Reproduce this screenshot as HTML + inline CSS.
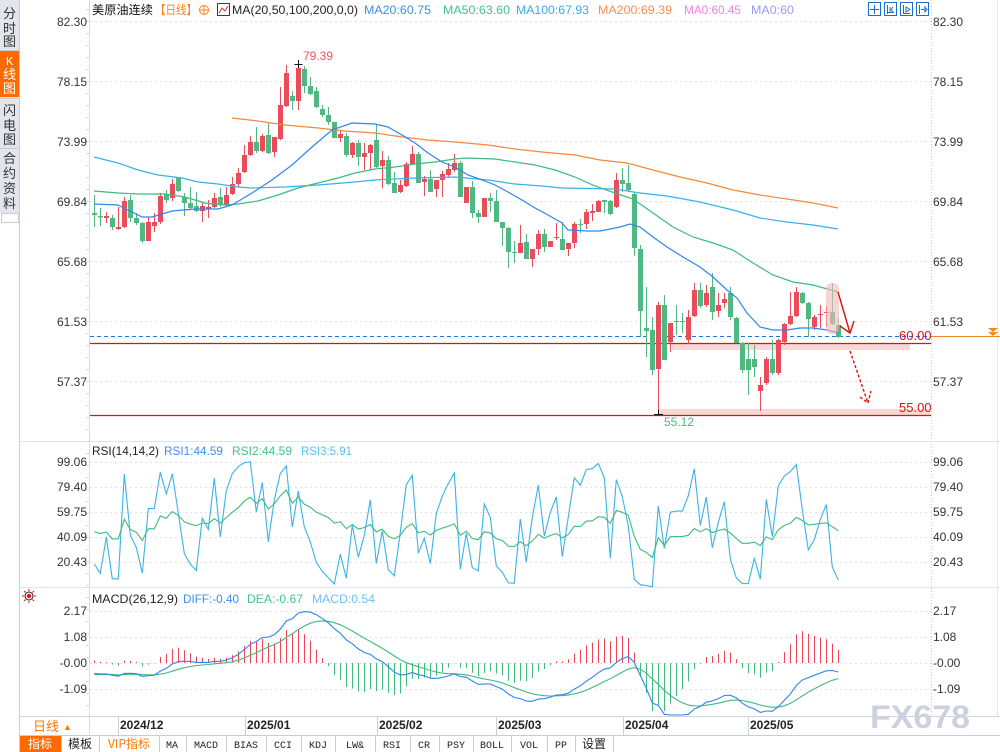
<!DOCTYPE html>
<html><head><meta charset="utf-8">
<style>
html,body{margin:0;padding:0;background:#fff}
body{width:1000px;height:752px;overflow:hidden;position:relative;font-family:"Liberation Sans","Noto Sans CJK SC",sans-serif}
svg{position:absolute;left:0;top:0}
text{font-family:"Liberation Sans","Noto Sans CJK SC",sans-serif;font-size:12px}
.cj{font-family:"Noto Sans CJK SC","Liberation Sans",sans-serif}
.mono{font-family:"Liberation Mono","Noto Sans CJK SC",monospace;font-size:10px}
</style></head><body>
<svg width="1000" height="752" viewBox="0 0 1000 752" xmlns="http://www.w3.org/2000/svg">
<!-- sidebar -->
<rect x="0" y="0" width="19" height="213" fill="#e3e5ed"/>
<rect x="0" y="51" width="19" height="46" fill="#ff6a00"/>
<line x1="0" y1="50.5" x2="19" y2="50.5" stroke="#c8ccd6"/>
<line x1="0" y1="98.5" x2="19" y2="98.5" stroke="#c8ccd6"/>
<line x1="0" y1="148.5" x2="19" y2="148.5" stroke="#c8ccd6"/>
<rect x="1.5" y="213.5" width="17" height="9" fill="#fff" stroke="#c8ccd6"/>
<line x1="19.5" y1="0" x2="19.5" y2="752" stroke="#c9ced8"/>
<g class="cj" fill="#333" text-anchor="middle" style="font-size:13px">
<text x="9.5" y="18" class="cj" style="font-size:13px">分</text>
<text x="9.5" y="33" class="cj" style="font-size:13px">时</text>
<text x="9.5" y="46" class="cj" style="font-size:13px">图</text>
<text x="9.5" y="65" fill="#fff" style="font-size:12px;font-family:'Liberation Mono',monospace">K</text>
<text x="9.5" y="79" class="cj" fill="#fff" style="font-size:13px">线</text>
<text x="9.5" y="93" class="cj" fill="#fff" style="font-size:13px">图</text>
<text x="9.5" y="115" class="cj" style="font-size:13px">闪</text>
<text x="9.5" y="130" class="cj" style="font-size:13px">电</text>
<text x="9.5" y="144" class="cj" style="font-size:13px">图</text>
<text x="9.5" y="163" class="cj" style="font-size:13px">合</text>
<text x="9.5" y="178" class="cj" style="font-size:13px">约</text>
<text x="9.5" y="193" class="cj" style="font-size:13px">资</text>
<text x="9.5" y="208" class="cj" style="font-size:13px">料</text>
</g>

<!-- axes & separators -->
<line x1="89.5" y1="0" x2="89.5" y2="736" stroke="#d5dde8"/>
<line x1="931.5" y1="0" x2="931.5" y2="716" stroke="#c8c8c8" stroke-dasharray="1,2"/>
<line x1="20" y1="441.5" x2="1000" y2="441.5" stroke="#dfe5ec"/>
<line x1="20" y1="587.5" x2="1000" y2="587.5" stroke="#dfe5ec"/>
<line x1="20" y1="716.5" x2="1000" y2="716.5" stroke="#d0d6e0"/>
<line x1="20" y1="735.5" x2="1000" y2="735.5" stroke="#c8ccd4"/>
<line x1="997.5" y1="0" x2="997.5" y2="716" stroke="#e4e8ee"/>
<g id="ticks"></g>

<!-- grid lines -->
<g stroke="#e2e2e2" stroke-dasharray="2,3">
<line x1="90" y1="21.5" x2="931" y2="21.5"/>
<line x1="90" y1="81.5" x2="931" y2="81.5"/>
<line x1="90" y1="141.5" x2="931" y2="141.5"/>
<line x1="90" y1="201.5" x2="931" y2="201.5"/>
<line x1="90" y1="261.5" x2="931" y2="261.5"/>
<line x1="90" y1="321.5" x2="931" y2="321.5"/>
<line x1="90" y1="381.5" x2="931" y2="381.5"/>
<line x1="90" y1="462.5" x2="931" y2="462.5"/>
<line x1="90" y1="487.5" x2="931" y2="487.5"/>
<line x1="90" y1="512.5" x2="931" y2="512.5"/>
<line x1="90" y1="537.5" x2="931" y2="537.5"/>
<line x1="90" y1="562.5" x2="931" y2="562.5"/>
<line x1="90" y1="611.5" x2="931" y2="611.5"/>
<line x1="90" y1="637.5" x2="931" y2="637.5"/>
<line x1="90" y1="663.5" x2="931" y2="663.5"/>
<line x1="90" y1="689.5" x2="931" y2="689.5"/>
</g>

<!-- axis labels -->
<g fill="#333" text-anchor="end">
<text x="87" y="26">82.30</text>
<text x="87" y="86">78.15</text>
<text x="87" y="146">73.99</text>
<text x="87" y="206">69.84</text>
<text x="87" y="266">65.68</text>
<text x="87" y="326">61.53</text>
<text x="87" y="386">57.37</text>
<text x="87" y="466">99.06</text>
<text x="87" y="491">79.40</text>
<text x="87" y="516">59.75</text>
<text x="87" y="541">40.09</text>
<text x="87" y="566">20.43</text>
<text x="87" y="615">2.17</text>
<text x="87" y="641">1.08</text>
<text x="87" y="667">-0.00</text>
<text x="87" y="693">-1.09</text>
</g>
<g fill="#333">
<text x="933" y="26">82.30</text>
<text x="933" y="86">78.15</text>
<text x="933" y="146">73.99</text>
<text x="933" y="206">69.84</text>
<text x="933" y="266">65.68</text>
<text x="933" y="326">61.53</text>
<text x="933" y="386">57.37</text>
<text x="933" y="466">99.06</text>
<text x="933" y="491">79.40</text>
<text x="933" y="516">59.75</text>
<text x="933" y="541">40.09</text>
<text x="933" y="566">20.43</text>
<text x="933" y="615">2.17</text>
<text x="933" y="641">1.08</text>
<text x="933" y="667">-0.00</text>
<text x="933" y="693">-1.09</text>
</g>

<!-- horizontal markers -->
<rect x="672" y="344" width="238" height="6" fill="#fad6d6"/>
<rect x="659" y="409" width="271" height="6" fill="#fad6d6"/>
<line x1="90" y1="336.5" x2="931" y2="336.5" stroke="#1a73e8" stroke-dasharray="4,3"/>
<line x1="90" y1="343.5" x2="931" y2="343.5" stroke="#e01010" stroke-width="1.2"/>
<line x1="90" y1="415.5" x2="931" y2="415.5" stroke="#e01010" stroke-width="1.2"/>
<line x1="931" y1="336.5" x2="1000" y2="336.5" stroke="#f08a24"/>
<polygon points="988,328 998,328 993,332" fill="#f08a24"/>
<polygon points="988,332 998,332 993,336" fill="#f08a24"/>

<g id="dyn"></g>

<!-- annotations -->
<rect x="826" y="283" width="13" height="51" rx="6" fill="#f4b8b8" opacity="0.6"/>
<g stroke="#e01010" stroke-width="1.4" fill="none">
<line x1="838" y1="292" x2="850" y2="333"/>
<polyline points="840,326 850,333 854,321"/>
<line x1="850" y1="351" x2="868" y2="403" stroke-dasharray="3,2"/>
<polyline points="860,397 868,403 871,391" stroke-dasharray="3,2"/>
</g>
<text x="899" y="340" fill="#e01010" style="font-size:13px">60.00</text>
<text x="899" y="412" fill="#e01010" style="font-size:13px">55.00</text>
<text x="303" y="60" fill="#e85565">79.39</text>
<g stroke="#111" stroke-width="1">
<line x1="294.5" y1="64.5" x2="302.5" y2="64.5"/><line x1="298.5" y1="60" x2="298.5" y2="68"/>
<line x1="654" y1="414.5" x2="663" y2="414.5"/><line x1="658.5" y1="410" x2="658.5" y2="414"/>
</g>
<text x="664" y="426" fill="#4fb880">55.12</text>

<!-- header -->
<text x="92" y="14" class="cj" fill="#111" textLength="61" lengthAdjust="spacingAndGlyphs">美原油连续</text>
<text x="155" y="14" class="cj" fill="#ff7f1e" textLength="42" lengthAdjust="spacingAndGlyphs">【日线】</text>
<circle cx="204" cy="10" r="4.5" fill="none" stroke="#ff7f1e"/>
<line x1="199.5" y1="10" x2="208.5" y2="10" stroke="#ff7f1e"/><line x1="204" y1="5.5" x2="204" y2="14.5" stroke="#ff7f1e"/>
<rect x="217.5" y="3.5" width="12" height="12" fill="#fff" stroke="#1a3e9e"/>
<polyline points="219,13 222,8 225,11 228,6" fill="none" stroke="#d03030"/>
<text x="232" y="14" fill="#222" textLength="126" lengthAdjust="spacingAndGlyphs">MA(20,50,100,200,0,0)</text>
<text x="364" y="14" fill="#3d8ef0" textLength="67" lengthAdjust="spacingAndGlyphs">MA20:60.75</text>
<text x="443" y="14" fill="#3fc48a" textLength="67" lengthAdjust="spacingAndGlyphs">MA50:63.60</text>
<text x="516" y="14" fill="#36aee8" textLength="73" lengthAdjust="spacingAndGlyphs">MA100:67.93</text>
<text x="598" y="14" fill="#f98f4e" textLength="74" lengthAdjust="spacingAndGlyphs">MA200:69.39</text>
<text x="684" y="14" fill="#ee82dd" textLength="57" lengthAdjust="spacingAndGlyphs">MA0:60.45</text>
<text x="751" y="14" fill="#9a9af5" textLength="43" lengthAdjust="spacingAndGlyphs">MA0:60</text>
<g fill="#fff" stroke="#1a6fc8">
<rect x="868.5" y="2.5" width="12" height="13"/>
<rect x="884.5" y="2.5" width="12" height="13"/>
<rect x="900.5" y="2.5" width="12" height="13"/>
<rect x="916.5" y="2.5" width="12" height="13"/>
</g>
<g stroke="#1a6fc8" fill="none">
<path d="M874.5 5v9M870 9.5h9"/>
<path d="M887.5 5v9M890 7v5M887 12.5h7M893 7l-2 2.5 2 2.5"/>
<path d="M903.5 5v9M903 13.5h7M906 7l4 2.5-4 2.5z"/>
<path d="M919.5 5v9M921 9.5h4M925 7v5l2-2.5z"/>
</g>

<!-- RSI header -->
<text x="92" y="455" fill="#222" textLength="67" lengthAdjust="spacingAndGlyphs">RSI(14,14,2)</text>
<text x="164" y="455" fill="#3d8ef0" textLength="59" lengthAdjust="spacingAndGlyphs">RSI1:44.59</text>
<text x="232" y="455" fill="#45c489" textLength="60" lengthAdjust="spacingAndGlyphs">RSI2:44.59</text>
<text x="301" y="455" fill="#5bc0eb" textLength="51" lengthAdjust="spacingAndGlyphs">RSI3:5.91</text>

<!-- MACD header -->
<g>
<circle cx="29" cy="596" r="4" fill="none" stroke="#222"/>
<circle cx="29" cy="596" r="2.2" fill="#e01010"/>
<g stroke="#e01010" stroke-width="1"><path d="M29 589v2M29 601v2M22 596h2M34 596h2M24 591l1.5 1.5M32.5 599.5l1.5 1.5M34 591l-1.5 1.5M25.5 599.5l-1.5 1.5"/></g>
</g>
<text x="92" y="603" fill="#222" textLength="86" lengthAdjust="spacingAndGlyphs">MACD(26,12,9)</text>
<text x="183" y="603" fill="#3d8ef0" textLength="56" lengthAdjust="spacingAndGlyphs">DIFF:-0.40</text>
<text x="247" y="603" fill="#45c489" textLength="56" lengthAdjust="spacingAndGlyphs">DEA:-0.67</text>
<text x="312" y="603" fill="#6cc3f0" textLength="63" lengthAdjust="spacingAndGlyphs">MACD:0.54</text>

<!-- watermark -->
<text x="870" y="728" fill="#ccd1dd" style="font-size:32px;font-weight:bold" textLength="100" lengthAdjust="spacingAndGlyphs">FX678</text>

<!-- date axis -->
<g stroke="#c8d0da">
<line x1="118.5" y1="717" x2="118.5" y2="735"/>
<line x1="245.5" y1="717" x2="245.5" y2="735"/>
<line x1="377.5" y1="717" x2="377.5" y2="735"/>
<line x1="496.5" y1="717" x2="496.5" y2="735"/>
<line x1="623.5" y1="717" x2="623.5" y2="735"/>
<line x1="748.5" y1="717" x2="748.5" y2="735"/>
</g>
<g fill="#222" style="font-weight:bold">
<text x="120" y="729" style="font-weight:bold">2024/12</text>
<text x="247" y="729" style="font-weight:bold">2025/01</text>
<text x="379" y="729" style="font-weight:bold">2025/02</text>
<text x="498" y="729" style="font-weight:bold">2025/03</text>
<text x="625" y="729" style="font-weight:bold">2025/04</text>
<text x="750" y="729" style="font-weight:bold">2025/05</text>
</g>
<text x="33" y="731" class="cj" fill="#ff7800" style="font-size:13px">日线</text>
<text x="63" y="730" fill="#ff7800" style="font-size:9px">▲</text>

<!-- bottom toolbar -->
<rect x="20" y="736" width="41" height="16" fill="#ff6a00"/>
<g stroke="#c8ccd4">
<line x1="61.5" y1="736" x2="61.5" y2="752"/><line x1="99.5" y1="736" x2="99.5" y2="752"/>
<line x1="159.5" y1="736" x2="159.5" y2="752"/><line x1="186.5" y1="736" x2="186.5" y2="752"/>
<line x1="226.5" y1="736" x2="226.5" y2="752"/><line x1="266.5" y1="736" x2="266.5" y2="752"/>
<line x1="301.5" y1="736" x2="301.5" y2="752"/><line x1="335.5" y1="736" x2="335.5" y2="752"/>
<line x1="375.5" y1="736" x2="375.5" y2="752"/><line x1="410.5" y1="736" x2="410.5" y2="752"/>
<line x1="439.5" y1="736" x2="439.5" y2="752"/><line x1="473.5" y1="736" x2="473.5" y2="752"/>
<line x1="511.5" y1="736" x2="511.5" y2="752"/><line x1="547.5" y1="736" x2="547.5" y2="752"/>
<line x1="575.5" y1="736" x2="575.5" y2="752"/><line x1="613.5" y1="736" x2="613.5" y2="752"/>
</g>
<g text-anchor="middle" fill="#222">
<text x="40" y="748" class="cj" fill="#fff">指标</text>
<text x="80" y="748" class="cj">模板</text>
<text x="129" y="748" class="cj" fill="#ff7800">VIP指标</text>
<text x="172" y="748" class="mono">MA</text>
<text x="206" y="748" class="mono">MACD</text>
<text x="246" y="748" class="mono">BIAS</text>
<text x="283" y="748" class="mono">CCI</text>
<text x="318" y="748" class="mono">KDJ</text>
<text x="355" y="748" class="mono">LW&amp;</text>
<text x="392" y="748" class="mono">RSI</text>
<text x="424" y="748" class="mono">CR</text>
<text x="456" y="748" class="mono">PSY</text>
<text x="492" y="748" class="mono">BOLL</text>
<text x="529" y="748" class="mono">VOL</text>
<text x="561" y="748" class="mono">PP</text>
<text x="594" y="748" class="cj">设置</text>
</g>
</svg>

<script>
(function(){
const K=[
['G',213,215,195,227],['G',216,217.5,208,226],['R',216,218,212,223],['G',218,227,215,230],['R',227,229,207,230],
['R',201,227,197,228],['G',200,218,195,222],['G',218,223,213,225],['G',223,241,222,243],['R',222,241,217,241],
['R',222,226,213,232],['R',196,222,193,224],['G',194,200,190,203],['R',184,198,179,201],['G',178,191,178,192],
['G',197,203,193,216],['G',203,208,187,210],['G',206,211,192,212],['R',206,211,203,222],['R',207,209,200,218],
['R',198,207,193,208],['G',197,205,188,207],['R',195,205,187,206],['R',184,194,177,195],['R',173,184,168,187],
['R',155,172,145,173],['R',142,155,136,156],['G',142,151,127,153],['R',136,151,134,152],['G',135,153,123,154],
['R',137,152,137,157],['R',105,139,87,140],['R',73,106,65,107],['G',96,101,91,110],['R',68,101,63,110],
['G',69,86,66,93],['G',86,94,77,95],['G',91,107,87,108],['G',109,115,105,117],['G',115,122,107,125],
['G',122,138,122,138],['R',134,138,130,142],['G',136,155,133,157],['R',143,155,142,158],['G',143,157,140,166],
['R',153,157,143,170],['R',145,153,144,170],['G',140,167,124,168],['R',160,166,151,188],['G',160,184,156,185],
['G',183,193,172,193],['R',185,192,180,193],['R',164,186,162,187],['R',154,164,146,164],['G',154,183,152,183],
['R',179,182,176,196],['G',179,192,170,192],['R',180,189,180,197],['R',174,180,171,197],['R',169,175,163,177],
['R',163,170,154,172],['G',163,197,161,197],['R',187,203,187,203],['G',187,213,181,218],['G',213,217,210,223],
['R',198,217,198,217],['G',198,201,193,212],['G',201,222,190,222],['G',222,228,222,246],['G',228,252,227,268],
['G',252,253,241,263],['R',243,253,225,253],['G',242,259,234,259],['R',249,259,249,267],['R',234,249,230,255],
['G',234,247,229,252],['R',241,247,241,247],['R',237,238,223,240],['G',239,250,222,250],['R',243,249,243,256],
['R',224,243,222,248],['G',224,225,219,233],['R',212,224,209,229],['R',211,213,204,221],['R',201,212,200,212],
['G',200,202,200,213],['G',201,214,200,215],['R',180,207,173,208],['G',180,184,168,192],['G',183,190,165,192],
['G',194,248,192,256],['G',249,311,245,337],['G',328,331,287,357],['G',330,370,317,375],['R',305,369,302,414],
['G',305,360,295,360],['R',323,342,323,352],['G',321,322,305,335],['G',321,322,313,333],['R',317,340,310,344],
['R',290,316,283,317],['G',290,306,283,308],['R',293,305,285,307],['G',287,312,273,320],['R',305,311,293,317],
['R',299,303,293,308],['G',293,317,287,320],['G',318,343,317,343],['G',343,370,342,373],['G',359,370,343,395],
['G',359,367,345,377],['R',385,391,377,411],['R',359,383,357,385],['G',359,373,340,375],['R',340,373,339,375],
['R',324,342,323,345],['R',316,324,292,325],['R',292,316,287,317],['G',293,303,292,304],['G',303,319,302,337],
['R',317,327,315,330],['R',314,315,305,328],['R',312,313,306,327],['G',312,324,283,325],['G',325,337,318,338]
];
const RED='#eb4b5b',GRN='#50b882';
const X=i=>94.3+6*i;
const P=y=>82.30-(y-21)/14.444;
let s='';
// candles
K.forEach((c,i)=>{
  const xc=Math.round(X(i))+0.5, col=c[0]==='R'?RED:GRN;
  s+=`<line x1="${xc}" x2="${xc}" y1="${c[3]}" y2="${c[4]}" stroke="${col}"/>`;
  const h=Math.max(1,c[2]-c[1]);
  s+=`<rect x="${xc-2.5}" y="${c[1]}" width="5" height="${h}" fill="${col}" shape-rendering="crispEdges"/>`;
});
// MAs
const pl=(pts,col)=>`<polyline points="${pts.map(p=>p.join(',')).join(' ')}" fill="none" stroke="${col}" stroke-width="1.2"/>`;
const MA20=[[94,204],[118,205],[142,217],[152,217],[172,211],[195,209],[218,209],[232,205],[252,193],[272,180],[292,165],[312,147],[332,130],[352,123],[375,124],[388,127],[402,135],[415,143],[428,153],[442,162],[455,167],[468,175],[482,180],[495,185],[508,192],[522,200],[535,208],[548,215],[562,223],[568,230],[588,231],[600,231],[620,227],[630,224],[640,227],[653,237],[667,247],[683,257],[700,267],[713,277],[727,290],[737,298],[747,313],[760,327],[773,330],[787,330],[800,328],[813,328],[827,330],[838,333]];
const MA50=[[94,191],[118,193],[138,194],[165,194],[185,197],[205,203],[225,205],[238,204],[258,201],[278,195],[298,188],[318,183],[338,178],[355,173],[375,169],[395,167],[415,164],[435,162],[455,159],[465,158],[495,159],[515,162],[535,165],[555,170],[575,177],[595,186],[615,193],[633,199],[653,213],[673,227],[693,237],[713,243],[733,250],[753,263],[773,275],[793,282],[813,285],[838,292]];
const MA100=[[94,157],[118,163],[138,170],[158,175],[182,178],[198,182],[218,184],[238,187],[252,188],[285,187],[318,185],[355,182],[375,180],[415,178],[455,177],[488,180],[515,184],[542,186],[562,188],[615,189],[640,193],[667,196],[700,202],[733,210],[760,218],[787,222],[813,225],[838,229]];
const MA200=[[232,118],[258,121],[285,125],[318,128],[345,131],[375,133],[402,137],[428,140],[455,142],[488,145],[515,149],[542,152],[575,155],[600,160],[627,163],[653,170],[680,177],[707,183],[733,190],[760,195],[787,199],[813,203],[838,208]];
s+=pl(MA200,'#f5883a')+pl(MA100,'#3ab0ea')+pl(MA50,'#3dbb7e')+pl(MA20,'#2e86f0');

// closes
const C=K.map(c=>P(c[0]==='R'?c[1]:c[2]));
// RSI (SMA style)
let u3=0.1,a3=0.26,u14=0.22,a14=0.48,prev=P(211);
const r3=[],r14=[];
C.forEach(c=>{const d=c-prev;prev=c;
  u3=(Math.max(d,0)+u3)/2;a3=(Math.abs(d)+a3)/2;
  u14=(Math.max(d,0)+13*u14)/14;a14=(Math.abs(d)+13*a14)/14;
  r3.push(a3>0?u3/a3*100:50);r14.push(a14>0?u14/a14*100:50);});
const RY=v=>Math.max(443,Math.min(587,461.7+(99.06-v)*1.2718));
s+=`<polyline points="${r3.map((v,i)=>X(i).toFixed(1)+','+RY(v).toFixed(1)).join(' ')}" fill="none" stroke="#38b4e6" stroke-width="1.1"/>`;
s+=`<polyline points="${r14.map((v,i)=>X(i).toFixed(1)+','+RY(v).toFixed(1)).join(' ')}" fill="none" stroke="#3dbb7e" stroke-width="1.1"/>`;
// MACD
let e12=69.45,e26=69.87,dea=-0.5;const DF=[],DE=[],MH=[];
C.forEach(c=>{e12=(2*c+11*e12)/13;e26=(2*c+25*e26)/27;const df=e12-e26;dea=(2*df+8*dea)/10;DF.push(df);DE.push(dea);MH.push(2*(df-dea));});
const MY=v=>Math.max(589,Math.min(715,663-v*23.8));
MH.forEach((m,i)=>{const xc=Math.round(X(i))+0.5;s+=`<line x1="${xc}" x2="${xc}" y1="663" y2="${MY(m).toFixed(1)}" stroke="${m>=0?'#ee4455':'#3fbb7d'}"/>`;});
s+=`<polyline points="${DE.map((v,i)=>X(i).toFixed(1)+','+MY(v).toFixed(1)).join(' ')}" fill="none" stroke="#3dbb7e" stroke-width="1.1"/>`;
s+=`<polyline points="${DF.map((v,i)=>X(i).toFixed(1)+','+MY(v).toFixed(1)).join(' ')}" fill="none" stroke="#2e86f0" stroke-width="1.1"/>`;
document.getElementById('dyn').innerHTML=s;
// axis ticks
let t='';for(let y=9;y<716;y+=12){t+=`<line x1="86" x2="89" y1="${y+0.5}" y2="${y+0.5}" stroke="#cfd7e2"/>`;}
document.getElementById('ticks').innerHTML=t;
})();
</script>
</body></html>
